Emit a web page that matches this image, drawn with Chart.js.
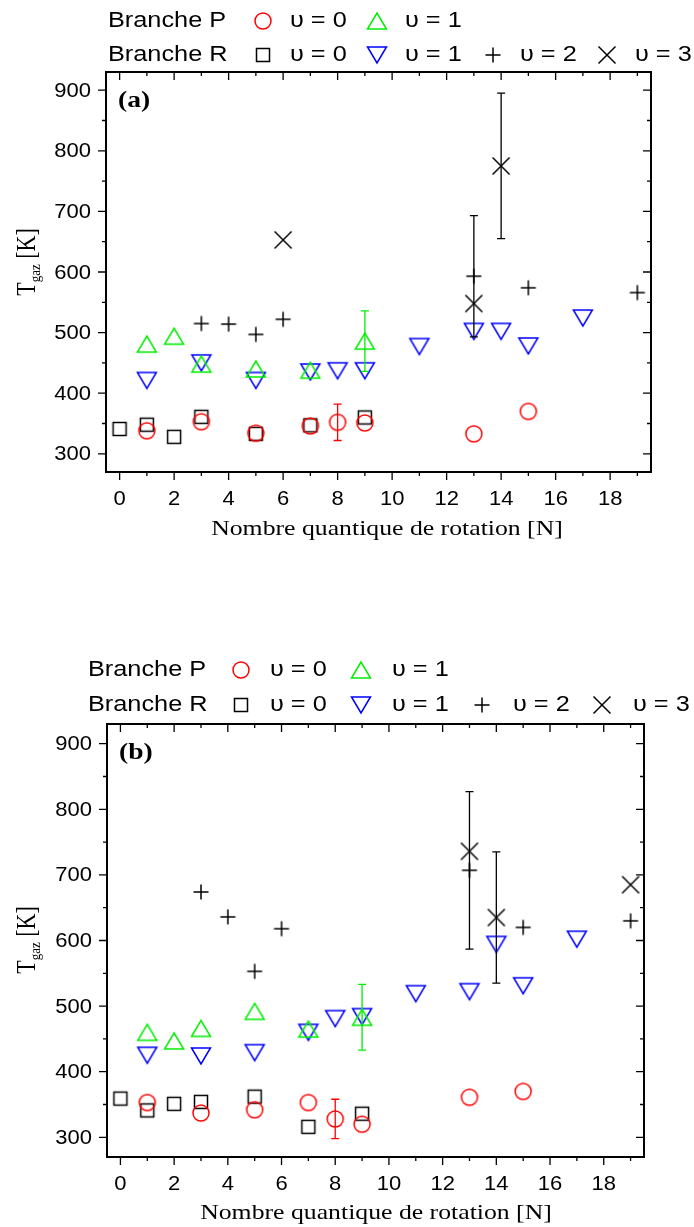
<!DOCTYPE html>
<html>
<head>
<meta charset="utf-8">
<script src="https://cdn.jsdelivr.net/npm/chart.js@4.4.1/dist/chart.umd.min.js"></script>
<style>
  body { margin: 0; background: #fff; }
  .panel { position: absolute; left: 0; width: 694px; }
  #panelA { top: 0; height: 560px; }
  #panelB { top: 620px; height: 607px; }
</style>
</head>
<body>
<div class="panel" id="panelA"><canvas id="chartA"></canvas></div>
<div class="panel" id="panelB"><canvas id="chartB"></canvas></div>
<script>
// axis ticks
const xMajor = [0, 2, 4, 6, 8, 10, 12, 14, 16, 18];
const xMinor = [1, 3, 5, 7, 9, 11, 13, 15, 17, 19];
const yMajor = [300, 400, 500, 600, 700, 800, 900];
const yMinor = [350, 450, 550, 650, 750, 850];

// panel (a)
const pv0N_a = [1, 3, 5, 7, 8, 9, 13, 15];
const pv0T_a = [338, 353, 334, 346, 352, 351, 333, 370];
const pv0E_a = [0, 0, 0, 0, 30, 0, 0, 0];
const pv1N_a = [1, 2, 3, 5, 7, 9];
const pv1T_a = [481, 494, 448, 440, 438, 486];
const pv1E_a = [0, 0, 0, 0, 0, 50];
const rv0N_a = [0, 1, 2, 3, 5, 7, 9];
const rv0T_a = [341, 348, 328, 361, 333, 347, 360];
const rv1N_a = [1, 3, 5, 7, 8, 9, 11, 13, 14, 15, 17];
const rv1T_a = [421, 450, 421, 435, 437, 437, 477, 502, 502, 478, 524];
const rv2N_a = [3, 4, 5, 6, 13, 15, 19];
const rv2T_a = [515, 514, 497, 522, 593, 574, 566];
const rv2E_a = [0, 0, 0, 0, 100, 0, 0];
const rv3N_a = [6, 13, 14];
const rv3T_a = [653, 548, 775];
const rv3E_a = [0, 0, 120];

// panel (b)
const pv0N_b = [1, 3, 5, 7, 8, 9, 13, 15];
const pv0T_b = [353, 337, 342, 353, 328, 320, 361, 370];
const pv0E_b = [0, 0, 0, 0, 30, 0, 0, 0];
const pv1N_b = [1, 2, 3, 5, 7, 9];
const pv1T_b = [460, 447, 466, 492, 465, 483];
const pv1E_b = [0, 0, 0, 0, 0, 50];
const rv0N_b = [0, 1, 2, 3, 5, 7, 9];
const rv0T_b = [359, 341, 351, 354, 362, 316, 336];
const rv1N_b = [1, 3, 5, 7, 8, 9, 11, 13, 14, 15, 17];
const rv1T_b = [425, 424, 429, 460, 481, 484, 519, 522, 594, 531, 602];
const rv2N_b = [3, 4, 5, 6, 13, 15, 19];
const rv2T_b = [674, 636, 553, 618, 707, 620, 630];
const rv2E_b = [0, 0, 0, 0, 120, 0, 0];
const rv3N_b = [13, 14, 19];
const rv3T_b = [736, 635, 685];
const rv3E_b = [0, 100, 0];

const RED = '#ff0000', GREEN = '#00ee00', BLUE = '#0000ff', BLACK = '#000000';
const SANS = '"Liberation Sans", Arial, sans-serif';
const SERIF = '"Liberation Serif", "Times New Roman", serif';

function makeMarker(shape, color) {
    const c = document.createElement('canvas');
    c.width = 24; c.height = 24;
    const g = c.getContext('2d');
    const m = 12;
    g.strokeStyle = color;
    g.lineWidth = 1.5;
    g.beginPath();
    if (shape === 'circle') {
        g.arc(m, m, 8, 0, 2 * Math.PI);
    } else if (shape === 'up') {
        g.moveTo(m - 9.5, m + 8); g.lineTo(m + 9.5, m + 8); g.lineTo(m, m - 8); g.closePath();
    } else if (shape === 'down') {
        g.moveTo(m - 9.5, m - 8); g.lineTo(m + 9.5, m - 8); g.lineTo(m, m + 8); g.closePath();
    } else if (shape === 'square') {
        g.rect(m - 6.5, m - 6.5, 13, 13);
    } else if (shape === 'plus') {
        g.moveTo(m - 7.5, m); g.lineTo(m + 7.5, m);
        g.moveTo(m, m - 7.5); g.lineTo(m, m + 7.5);
    } else if (shape === 'cross') {
        g.moveTo(m - 8.5, m - 8.5); g.lineTo(m + 8.5, m + 8.5);
        g.moveTo(m + 8.5, m - 8.5); g.lineTo(m - 8.5, m + 8.5);
    }
    g.stroke();
    return c;
}

const markers = {
    pv0: makeMarker('circle', RED),
    pv1: makeMarker('up', GREEN),
    rv0: makeMarker('square', BLACK),
    rv1: makeMarker('down', BLUE),
    rv2: makeMarker('plus', BLACK),
    rv3: makeMarker('cross', BLACK)
};

function points(ns, ts, es) {
    return ns.map((n, i) => ({ x: n, y: ts[i], err: es ? es[i] : 0 }));
}

function dataset(label, key, color, ns, ts, es) {
    return {
        label: label,
        data: points(ns, ts, es),
        pointStyle: markers[key],
        borderColor: color,
        backgroundColor: color,
        showLine: false
    };
}

// text in the figure is drawn a bit wider than normal, so stretch it
function wideText(ctx, text, x, y, font, align, sx) {
    ctx.save();
    ctx.font = font;
    ctx.textBaseline = 'middle';
    ctx.textAlign = align || 'left';
    ctx.translate(x, y);
    ctx.scale(sx || 1.15, 1);
    ctx.fillText(text, 0, 0);
    ctx.restore();
}

// error bars, frame, ticks, legend and titles
const decoPlugin = {
    id: 'deco',
    afterDatasetsDraw(chart) {
        const ctx = chart.ctx;
        const xs = chart.scales.x, ys = chart.scales.y;
        ctx.save();
        ctx.lineWidth = 1.3;
        chart.data.datasets.forEach(ds => {
            ctx.strokeStyle = ds.borderColor;
            ds.data.forEach(p => {
                if (!p.err) return;
                const px = xs.getPixelForValue(p.x);
                const y1 = ys.getPixelForValue(p.y - p.err);
                const y2 = ys.getPixelForValue(p.y + p.err);
                ctx.beginPath();
                ctx.moveTo(px, y1); ctx.lineTo(px, y2);
                ctx.moveTo(px - 4, y1); ctx.lineTo(px + 4, y1);
                ctx.moveTo(px - 4, y2); ctx.lineTo(px + 4, y2);
                ctx.stroke();
            });
        });
        ctx.restore();
    },
    afterDraw(chart, args, opts) {
        const ctx = chart.ctx;
        const a = chart.chartArea;
        const xs = chart.scales.x, ys = chart.scales.y;
        ctx.save();
        ctx.fillStyle = BLACK;
        ctx.strokeStyle = BLACK;

        // frame
        ctx.lineWidth = 2;
        ctx.strokeRect(a.left, a.top, a.right - a.left, a.bottom - a.top);

        // ticks: outward on bottom/left, inward on top/right
        ctx.lineWidth = 1.3;
        ctx.beginPath();
        xMajor.concat(xMinor).forEach(v => {
            const len = xMajor.includes(v) ? 8 : 4;
            const px = xs.getPixelForValue(v);
            ctx.moveTo(px, a.bottom); ctx.lineTo(px, a.bottom + len);
            ctx.moveTo(px, a.top); ctx.lineTo(px, a.top + len);
        });
        yMajor.concat(yMinor).forEach(v => {
            const len = yMajor.includes(v) ? 8 : 4;
            const py = ys.getPixelForValue(v);
            ctx.moveTo(a.left - len, py); ctx.lineTo(a.left, py);
            ctx.moveTo(a.right - len, py); ctx.lineTo(a.right, py);
        });
        ctx.stroke();

        // tick labels
        const tickFont = '20px ' + SANS;
        xMajor.forEach(v => {
            const px = xs.getPixelForValue(v);
            wideText(ctx, String(v), px, a.bottom + 27, tickFont, 'center', 1.1);
        });
        yMajor.forEach(v => {
            const py = ys.getPixelForValue(v);
            wideText(ctx, String(v), a.left - 15, py + 1, tickFont, 'right', 1.1);
        });

        // panel letter
        wideText(ctx, opts.letter, a.left + 12, a.top + 29, 'bold 24px ' + SERIF, 'left', 1.15);

        // x title
        wideText(ctx, 'Nombre quantique de rotation [N]', opts.xTitle[0], opts.xTitle[1], '22px ' + SERIF, 'center', 1.17);

        // y title, rotated, with subscript
        ctx.save();
        ctx.translate(opts.yTitle[0], opts.yTitle[1]);
        ctx.rotate(-Math.PI / 2);
        ctx.scale(1, 1.2);
        ctx.textBaseline = 'alphabetic';
        ctx.textAlign = 'left';
        const big = '22px ' + SERIF, small = '13px ' + SERIF;
        ctx.font = big;
        const wT = ctx.measureText('T').width;
        const wK = ctx.measureText(' [K]').width;
        ctx.font = small;
        const wG = ctx.measureText('gaz').width;
        const x0 = -(wT + wG + wK) / 2;
        const base = 7;
        ctx.font = big; ctx.fillText('T', x0, base);
        ctx.font = small; ctx.fillText('gaz', x0 + wT, base + 4);
        ctx.font = big; ctx.fillText(' [K]', x0 + wT + wG, base);
        ctx.restore();

        // legend
        const L = opts.legend;
        const lf = '22px ' + SANS;
        const r1 = L.rows[0], r2 = L.rows[1];
        const m = (img, x, y) => ctx.drawImage(img, x - img.width / 2, y - img.height / 2);
        wideText(ctx, 'Branche P', L.branch, r1, lf);
        m(markers.pv0, L.mk[0], r1);
        wideText(ctx, '\u03c5 = 0', L.txt[0], r1, lf);
        m(markers.pv1, L.mk[1], r1);
        wideText(ctx, '\u03c5 = 1', L.txt[1], r1, lf);

        wideText(ctx, 'Branche R', L.branch, r2, lf);
        m(markers.rv0, L.mk[0], r2);
        wideText(ctx, '\u03c5 = 0', L.txt[0], r2, lf);
        m(markers.rv1, L.mk[1], r2);
        wideText(ctx, '\u03c5 = 1', L.txt[1], r2, lf);
        m(markers.rv2, L.mk[2], r2);
        wideText(ctx, '\u03c5 = 2', L.txt[2], r2, lf);
        m(markers.rv3, L.mk[3], r2);
        wideText(ctx, '\u03c5 = 3', L.txt[3], r2, lf);
        ctx.restore();
    }
};

function makeChart(id, datasets, geo, deco) {
    return new Chart(document.getElementById(id), {
        type: 'scatter',
        data: { datasets: datasets },
        plugins: [decoPlugin],
        options: {
            responsive: true,
            maintainAspectRatio: false,
            animation: false,
            events: [],
            layout: { padding: { top: geo.top, right: geo.right, left: 0, bottom: 0 } },
            elements: { point: { radius: 10, hoverRadius: 10 } },
            plugins: {
                legend: { display: false },
                tooltip: { enabled: false },
                deco: deco
            },
            scales: {
                x: {
                    type: 'linear',
                    min: -0.5,
                    max: 19.5,
                    grid: { display: false },
                    border: { display: false },
                    ticks: { display: false },
                    afterBuildTicks: s => { s.ticks = xMajor.map(v => ({ value: v })); },
                    afterFit: s => { s.height = geo.xHeight; }
                },
                y: {
                    type: 'linear',
                    min: 270,
                    max: 930,
                    grid: { display: false },
                    border: { display: false },
                    ticks: { display: false },
                    afterBuildTicks: s => { s.ticks = yMajor.map(v => ({ value: v })); },
                    afterFit: s => { s.width = geo.yWidth; }
                }
            }
        }
    });
}

makeChart('chartA', [
    dataset('Branche P, \u03c5 = 0', 'pv0', RED, pv0N_a, pv0T_a, pv0E_a),
    dataset('Branche P, \u03c5 = 1', 'pv1', GREEN, pv1N_a, pv1T_a, pv1E_a),
    dataset('Branche R, \u03c5 = 0', 'rv0', BLACK, rv0N_a, rv0T_a),
    dataset('Branche R, \u03c5 = 1', 'rv1', BLUE, rv1N_a, rv1T_a),
    dataset('Branche R, \u03c5 = 2', 'rv2', BLACK, rv2N_a, rv2T_a, rv2E_a),
    dataset('Branche R, \u03c5 = 3', 'rv3', BLACK, rv3N_a, rv3T_a, rv3E_a)
], { top: 72, right: 43, yWidth: 106, xHeight: 88 }, {
    letter: '(a)',
    xTitle: [387, 529],
    yTitle: [27, 262],
    legend: { rows: [21, 55], branch: 108, mk: [263, 377, 493, 607], txt: [290, 405, 520, 635] }
});

makeChart('chartB', [
    dataset('Branche P, \u03c5 = 0', 'pv0', RED, pv0N_b, pv0T_b, pv0E_b),
    dataset('Branche P, \u03c5 = 1', 'pv1', GREEN, pv1N_b, pv1T_b, pv1E_b),
    dataset('Branche R, \u03c5 = 0', 'rv0', BLACK, rv0N_b, rv0T_b),
    dataset('Branche R, \u03c5 = 1', 'rv1', BLUE, rv1N_b, rv1T_b),
    dataset('Branche R, \u03c5 = 2', 'rv2', BLACK, rv2N_b, rv2T_b, rv2E_b),
    dataset('Branche R, \u03c5 = 3', 'rv3', BLACK, rv3N_b, rv3T_b, rv3E_b)
], { top: 104, right: 50, yWidth: 107, xHeight: 70 }, {
    letter: '(b)',
    xTitle: [376, 593],
    yTitle: [27, 320],
    legend: { rows: [50, 85], branch: 88, mk: [241, 361, 482, 602], txt: [270, 392, 513, 633] }
});
</script>
</body>
</html>
